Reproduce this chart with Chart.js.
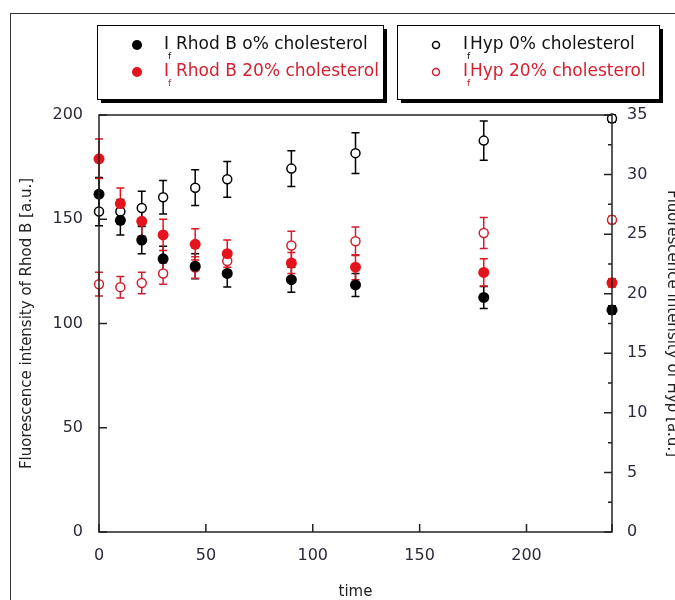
<!DOCTYPE html>
<html>
<head>
<meta charset="utf-8">
<script src="https://cdn.jsdelivr.net/npm/chart.js@4.4.0/dist/chart.umd.min.js"></script>
<style>
  html, body { margin: 0; padding: 0; background: #fff; }
</style>
</head>
<body>
<canvas id="chart" width="675" height="600"></canvas>
<script>
// sampling times
const times = [0, 10, 20, 30, 45, 60, 90, 120, 180, 240];

// Rhod B (left axis)
const rhodB0 = [162, 149.5, 140, 131, 127.5, 124, 121, 118.5, 112.5, 106.5];
const rhodB0Err = [8, 7, 6.5, 6, 6, 6.5, 6, 5.5, 5.3, 2];
const rhodB20 = [179, 157.5, 149, 142.5, 138, 133.5, 129, 127, 124.5, 119.5];
const rhodB20Err = [9.5, 7.5, 7, 7.5, 7.5, 6.5, 5, 6, 6.5, 2];

// Hyp (right axis)
const hyp0 = [26.9, 26.9, 27.2, 28.1, 28.9, 29.6, 30.5, 31.8, 32.85, 34.7];
const hyp0Err = [1.2, 1.0, 1.4, 1.4, 1.5, 1.5, 1.5, 1.7, 1.65, 0.3];
const hyp20 = [20.8, 20.55, 20.9, 21.7, 22.2, 22.75, 24.05, 24.4, 25.1, 26.2];
const hyp20Err = [1.0, 0.9, 0.9, 0.9, 0.9, 0.8, 1.2, 1.2, 1.3, 0.3];

const legendLabels = ['Rhod B o% cholesterol', 'Rhod B 20% cholesterol', 'Hyp 0% cholesterol', 'Hyp 20% cholesterol'];

const RED = '#e4141c';
const RED_OPEN = '#cc2030';
const FONT = "'DejaVu Sans', sans-serif";

function points(ys) {
    return times.map((t, i) => ({ x: t, y: ys[i] }));
}

// vertical error bars with caps, drawn under the markers
const errorBars = {
    id: 'errorBars',
    beforeDatasetsDraw(chart) {
        const ctx = chart.ctx;
        const xs = chart.scales.x;
        chart.data.datasets.forEach((ds) => {
            const ys = chart.scales[ds.yAxisID];
            ctx.save();
            ctx.strokeStyle = ds.borderColor;
            ctx.lineWidth = 1.5;
            ds.data.forEach((p, j) => {
                const e = ds.errors[j];
                const px = xs.getPixelForValue(p.x);
                const top = ys.getPixelForValue(p.y + e);
                const bot = ys.getPixelForValue(p.y - e);
                ctx.beginPath();
                ctx.moveTo(px, top); ctx.lineTo(px, bot);
                ctx.moveTo(px - 4, top); ctx.lineTo(px + 4, top);
                ctx.moveTo(px - 4, bot); ctx.lineTo(px + 4, bot);
                ctx.stroke();
            });
            ctx.restore();
        });
    }
};

// outer frame, plot box and inward tick marks
const frame = {
    id: 'frame',
    beforeDraw(chart) {
        const ctx = chart.ctx;
        ctx.save();
        ctx.strokeStyle = '#333';
        ctx.lineWidth = 1;
        ctx.strokeRect(10.5, 13.5, 700, 700);
        ctx.restore();
    },
    afterDraw(chart) {
        const { ctx, chartArea: a, scales } = chart;
        ctx.save();
        ctx.strokeStyle = '#222';
        ctx.lineWidth = 1.5;
        ctx.strokeRect(a.left, a.top, a.right - a.left, a.bottom - a.top);
        ctx.beginPath();
        scales.x.ticks.forEach(t => {
            const px = scales.x.getPixelForValue(t.value);
            ctx.moveTo(px, a.bottom); ctx.lineTo(px, a.bottom - 8);
        });
        scales.y.ticks.forEach(t => {
            const py = scales.y.getPixelForValue(t.value);
            ctx.moveTo(a.left, py); ctx.lineTo(a.left + 8, py);
        });
        scales.y1.ticks.forEach(t => {
            const py = scales.y1.getPixelForValue(t.value);
            ctx.moveTo(a.right, py); ctx.lineTo(a.right - 8, py);
            if (t.value < scales.y1.max) {
                const pm = scales.y1.getPixelForValue(t.value + 2.5);
                ctx.moveTo(a.right, pm); ctx.lineTo(a.right - 4, pm);
            }
        });
        ctx.stroke();
        ctx.restore();
    }
};

// two boxed legends with drop shadows
const boxLegend = {
    id: 'boxLegend',
    afterDraw(chart) {
        const ctx = chart.ctx;
        const ds = chart.data.datasets;
        const boxes = [
            { x: 97, w: 286, items: [0, 1], mx: 137, tx: 164, gap: 12 },
            { x: 397, w: 262, items: [2, 3], mx: 436, tx: 463, gap: 7 }
        ];
        const rows = [45, 72];
        ctx.save();
        boxes.forEach(b => {
            ctx.fillStyle = '#000';
            ctx.fillRect(b.x + 4, 29, b.w, 74);
            ctx.fillStyle = '#fff';
            ctx.fillRect(b.x, 25, b.w, 74);
            ctx.strokeStyle = '#000';
            ctx.lineWidth = 1;
            ctx.strokeRect(b.x + 0.5, 25.5, b.w, 74);
            b.items.forEach((k, r) => {
                const d = ds[k];
                const y = rows[r];
                ctx.beginPath();
                if (d.pointBackgroundColor === '#fff') {
                    ctx.arc(b.mx, y, 3.5, 0, Math.PI * 2);
                    ctx.fillStyle = '#fff';
                    ctx.fill();
                    ctx.lineWidth = 1.5;
                    ctx.strokeStyle = d.borderColor;
                    ctx.stroke();
                } else {
                    ctx.arc(b.mx, y, 5, 0, Math.PI * 2);
                    ctx.fillStyle = d.borderColor;
                    ctx.fill();
                }
                const col = d.borderColor === '#000' ? '#111' : '#d42030';
                ctx.fillStyle = col;
                ctx.textBaseline = 'middle';
                ctx.font = '17px ' + FONT;
                ctx.fillText('I', b.tx, y);
                ctx.font = '9px ' + FONT;
                ctx.fillText('f', b.tx + 4, y + 12);
                ctx.font = '17px ' + FONT;
                ctx.fillText(legendLabels[k], b.tx + b.gap, y);
            });
        });
        ctx.restore();
    }
};

new Chart(document.getElementById('chart').getContext('2d'), {
    type: 'scatter',
    data: {
        datasets: [
            {
                label: legendLabels[0],
                data: points(rhodB0),
                errors: rhodB0Err,
                yAxisID: 'y',
                borderColor: '#000',
                pointBackgroundColor: '#000',
                pointBorderColor: '#000',
                pointRadius: 5.5,
                pointBorderWidth: 0,
                clip: false
            },
            {
                label: legendLabels[1],
                data: points(rhodB20),
                errors: rhodB20Err,
                yAxisID: 'y',
                borderColor: RED,
                pointBackgroundColor: RED,
                pointBorderColor: RED,
                pointRadius: 5.5,
                pointBorderWidth: 0,
                clip: false
            },
            {
                label: legendLabels[2],
                data: points(hyp0),
                errors: hyp0Err,
                yAxisID: 'y1',
                borderColor: '#000',
                pointBackgroundColor: '#fff',
                pointBorderColor: '#000',
                pointRadius: 4.5,
                pointBorderWidth: 1.5,
                clip: false
            },
            {
                label: legendLabels[3],
                data: points(hyp20),
                errors: hyp20Err,
                yAxisID: 'y1',
                borderColor: RED_OPEN,
                pointBackgroundColor: '#fff',
                pointBorderColor: RED_OPEN,
                pointRadius: 4.5,
                pointBorderWidth: 1.5,
                clip: false
            }
        ]
    },
    options: {
        responsive: false,
        animation: false,
        layout: {
            padding: { top: 115, left: 0, right: 0, bottom: 0 }
        },
        plugins: {
            legend: { display: false },
            tooltip: { enabled: false }
        },
        scales: {
            x: {
                type: 'linear',
                min: 0,
                max: 240,
                afterFit: (s) => { s.height = 68; },
                grid: { display: false, drawTicks: false },
                border: { display: false },
                ticks: {
                    stepSize: 50,
                    padding: 14,
                    color: '#2a2a3a',
                    font: { family: FONT, size: 16 },
                    callback: (v) => (v % 50 === 0 ? v : '')
                },
                title: {
                    display: true,
                    text: 'time',
                    color: '#222',
                    font: { family: FONT, size: 15 },
                    padding: { top: 0, bottom: -1 }
                }
            },
            y: {
                position: 'left',
                min: 0,
                max: 200,
                afterFit: (s) => { s.width = 99; },
                grid: { display: false, drawTicks: false },
                border: { display: false },
                ticks: {
                    stepSize: 50,
                    padding: 16,
                    color: '#2a2a3a',
                    font: { family: FONT, size: 16 }
                },
                title: {
                    display: true,
                    text: 'Fluorescence intensity of Rhod B [a.u.]',
                    color: '#222',
                    font: { family: FONT, size: 15 },
                    padding: { top: 18, bottom: 0 }
                }
            },
            y1: {
                position: 'right',
                min: 0,
                max: 35,
                afterFit: (s) => { s.width = 63; },
                grid: { display: false, drawTicks: false },
                border: { display: false },
                ticks: {
                    stepSize: 5,
                    padding: 15,
                    color: '#2a2a3a',
                    font: { family: FONT, size: 16 }
                },
                title: {
                    display: true,
                    text: 'Fluorescence intensity of Hyp [a.u.]',
                    color: '#222',
                    font: { family: FONT, size: 15 },
                    padding: { top: -6, bottom: 0 }
                }
            }
        }
    },
    plugins: [frame, errorBars, boxLegend]
});
</script>
</body>
</html>
